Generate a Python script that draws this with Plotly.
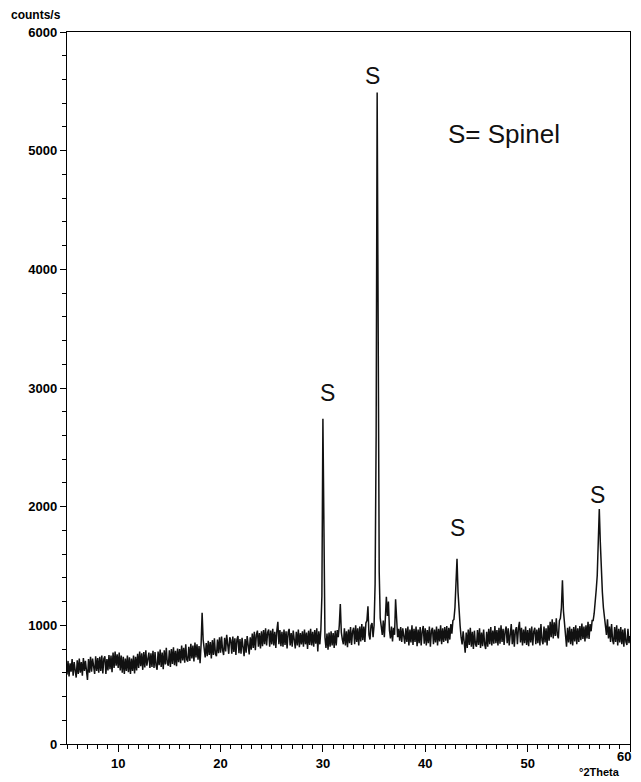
import plotly.graph_objects as go

# Diffractogram counts, one list per 10-degree block, 0.1 deg steps
counts_05_14 = [
    585, 700, 570, 680, 610, 715, 575, 690, 620, 560,
    705, 590, 720, 600, 690, 575, 725, 615, 700, 585,
    540, 715, 600, 735, 610, 720, 625, 590, 740, 615,
    725, 600, 735, 615, 745, 595, 720, 740, 590, 715,
    620, 750, 630, 745, 605, 770, 640, 780, 660, 755,
    640, 770, 620, 745, 600, 735, 590, 720, 615, 745,
    605, 730, 590, 720, 615, 745, 595, 735, 620, 760,
    640, 780, 655, 765, 625, 775, 645, 790, 660, 735,
    770, 640, 765, 650, 785, 640, 775, 660, 625, 780,
    665, 795, 650, 770, 630, 790, 670, 810, 680, 660,
]
counts_15_24 = [
    790, 650, 800, 675, 815, 665, 785, 655, 805, 690,
    800, 680, 830, 705, 810, 685, 840, 710, 695, 820,
    700, 845, 720, 830, 695, 855, 730, 840, 710, 825,
    680, 840, 1105, 880, 820, 730, 850, 740, 870, 750,
    860, 720, 875, 750, 890, 760, 740, 880, 765, 900,
    770, 905, 790, 750, 895, 780, 920, 795, 760, 900,
    875, 760, 905, 775, 890, 750, 880, 910, 765, 885,
    760, 895, 780, 740, 885, 770, 910, 790, 755, 900,
    795, 930, 810, 945, 790, 920, 955, 820, 935, 805,
    950, 825, 960, 840, 975, 830, 940, 965, 820, 955,
]
counts_25_34 = [
    840, 970, 830, 945, 810, 955, 1030, 840, 960, 825,
    945, 820, 965, 835, 950, 805, 940, 970, 830, 935,
    820, 955, 840, 805, 945, 830, 965, 815, 935, 840,
    950, 820, 965, 840, 940, 800, 955, 835, 970, 830,
    945, 820, 960, 845, 975, 780, 950, 840, 960, 1250,
    2740, 1450, 900, 810, 930, 795, 940, 820, 950, 830,
    935, 810, 955, 830, 960, 900, 1000, 1180, 940, 880,
    840, 975, 830, 950, 815, 965, 850, 985, 835, 950,
    980, 840, 1000, 860, 975, 830, 990, 865, 1010, 875,
    990, 860, 1020, 1040, 1160, 920, 880, 1000, 1020, 900,
]
counts_35_44 = [
    1000, 1350, 2600, 5490, 3100, 1450, 1060, 950, 920, 1040,
    900, 1060, 1240, 1080, 1200, 960, 890, 990, 865, 980,
    920, 1220, 1030, 900, 970, 870, 985, 860, 975, 890,
    845, 975, 860, 990, 830, 965, 855, 1000, 835, 970,
    860, 990, 825, 965, 850, 985, 830, 950, 995, 845,
    975, 830, 960, 850, 990, 820, 955, 980, 840, 965,
    855, 990, 830, 970, 865, 1000, 840, 975, 860, 985,
    870, 995, 850, 980, 880, 1010, 930, 1040, 1050, 1150,
    1350, 1560, 1280, 1090, 1000, 900, 840, 950, 825, 770,
    940, 810, 965, 835, 980, 820, 945, 800, 955, 840,
]
counts_45_54 = [
    820, 960, 835, 975, 810, 940, 825, 965, 840, 800,
    945, 820, 970, 840, 985, 830, 955, 845, 995, 850,
    960, 830, 980, 845, 1000, 860, 970, 835, 950, 990,
    850, 975, 830, 960, 1010, 840, 965, 820, 955, 985,
    840, 975, 1030, 855, 980, 830, 965, 850, 990, 835,
    960, 825, 975, 855, 990, 830, 950, 980, 840, 965,
    850, 980, 830, 1010, 875, 840, 990, 855, 975, 830,
    1000, 870, 1030, 900, 1050, 890, 1025, 910, 1060, 920,
    890, 1040, 1060, 1150, 1380, 1120, 990, 880, 820, 980,
    855, 990, 840, 970, 830, 985, 865, 1000, 840, 975,
]
counts_55_60 = [
    860, 995, 875, 1015, 885, 990, 865, 1000, 890, 1030,
    885, 1010, 950, 1040, 1040, 1100, 1180, 1300, 1420, 1650,
    1980, 1700, 1450, 1280, 1150, 1060, 1000, 920, 1050, 890,
    990, 860, 1010, 875, 840, 985, 860, 1000, 830, 970,
    855, 985, 840, 965, 820, 975, 860, 835, 970, 850,
    910,
]
scan_start = 5.0
scan_step = 0.1

counts = (counts_05_14 + counts_15_24 + counts_25_34 + counts_35_44
          + counts_45_54 + counts_55_60)
two_theta = [round(scan_start + scan_step * i, 2) for i in range(len(counts))]

x_ticks = [10, 20, 30, 40, 50, 60]
x_tick_text = ["10", "20", "30", "40", "50", ""]   # "60" drawn separately so it stays visible
x_last_label = "60"
y_ticks = [0, 1000, 2000, 3000, 4000, 5000, 6000]

labels_text = ["S", "S", "S", "S"]
labels_x = [30.45, 34.83, 43.17, 56.8]
labels_y = [2958, 5633, 1820, 2101]

fig = go.Figure()
fig.add_trace(go.Scatter(x=two_theta, y=counts, mode="lines",
                         line=dict(color="#111", width=1.5), hoverinfo="skip"))

for t, xx, yy in zip(labels_text, labels_x, labels_y):
    fig.add_annotation(x=xx, y=yy, text=t, showarrow=False,
                       font=dict(family="Liberation Sans, Arial", size=23, color="#111"),
                       xanchor="center", yanchor="middle")
fig.add_annotation(x=47.7, y=5140, text="S= Spinel", showarrow=False,
                   font=dict(family="Liberation Sans, Arial", size=26, color="#111"),
                   xanchor="center", yanchor="middle")

axis_font = dict(family="Liberation Sans, Arial", size=13, color="black", weight="bold")

fig.add_annotation(xref="paper", yref="paper", x=-0.055, y=1.024, text="counts/s",
                   showarrow=False, xanchor="center", yanchor="middle",
                   font=dict(family="Liberation Sans, Arial", size=12, color="black", weight="bold"))
fig.add_annotation(xref="paper", yref="paper", x=0.945, y=-0.039, text="°2Theta",
                   showarrow=False, xanchor="center", yanchor="middle",
                   font=dict(family="Liberation Sans, Arial", size=11, color="black", weight="bold"))
fig.add_annotation(x=x_ticks[-1], yref="paper", y=-0.017, text=x_last_label,
                   showarrow=False, xanchor="right", yanchor="middle", xshift=3,
                   font=axis_font)

fig.update_xaxes(range=[5, 60], tickvals=x_ticks, ticktext=x_tick_text, ticks="outside",
                 ticklen=7, tickwidth=1,
                 tickcolor="black", showline=True, linecolor="black", linewidth=1.3,
                 mirror=True, showgrid=False, zeroline=False, tickfont=axis_font,
                 automargin=False, ticklabeloverflow="allow",
                 minor=dict(dtick=1, ticks="outside", ticklen=4, tickcolor="black", showgrid=False))
fig.update_yaxes(range=[0, 6000], tickvals=y_ticks, ticks="outside", ticklen=6, tickwidth=1,
                 tickcolor="black", showline=True, linecolor="black", linewidth=1.3,
                 mirror=True, showgrid=False, zeroline=False, tickfont=axis_font,
                 automargin=False, ticklabeloverflow="allow",
                 minor=dict(dtick=200, ticks="outside", ticklen=4, tickcolor="black", showgrid=False))

# the page body adds an 8 px offset; margins compensate so the axes sit where the reference has them
fig.update_layout(width=641, height=782, margin=dict(l=59, r=19, t=24, b=46),
                  plot_bgcolor="white", paper_bgcolor="white", showlegend=False)

fig.write_html("out.html")
